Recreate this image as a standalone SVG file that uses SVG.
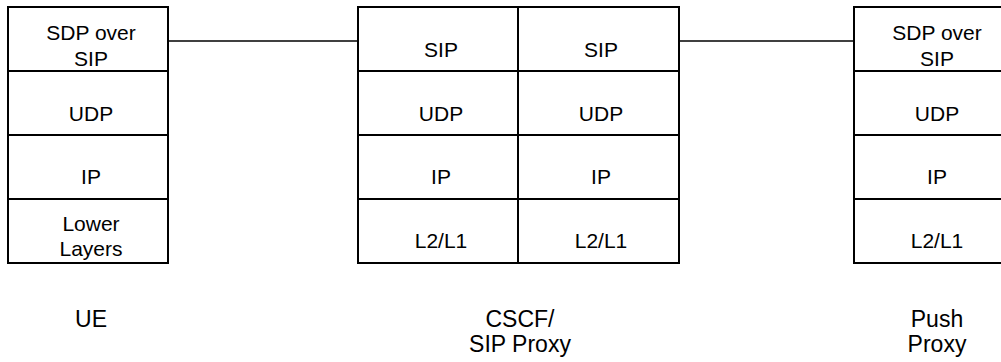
<svg xmlns="http://www.w3.org/2000/svg" width="1001" height="362" viewBox="0 0 1001 362">
<style>
.b{fill:#fff;stroke:#000;stroke-width:2}
.d{fill:none;stroke:#000;stroke-width:2}
.l{fill:none;stroke:#000;stroke-width:1.5}
text{font-family:"Liberation Sans",Arial,sans-serif;font-size:21px;fill:#000;text-anchor:middle}
text.n{font-size:23px}
</style>
<rect width="1001" height="362" fill="#fff"/>
<g id="connectors">
<line class="l" x1="168" y1="41" x2="358" y2="41"/>
<line class="l" x1="679" y1="41" x2="854" y2="41"/>
</g>
<g id="ue">
<rect class="b" x="8" y="7" width="160" height="256"/>
<line class="d" x1="8" y1="71" x2="168" y2="71"/>
<line class="d" x1="8" y1="135" x2="168" y2="135"/>
<line class="d" x1="8" y1="199" x2="168" y2="199"/>
<text x="91" y="39.5">SDP over</text>
<text x="91" y="65.5">SIP</text>
<text x="91" y="121">UDP</text>
<text x="91" y="184">IP</text>
<text x="91" y="231">Lower</text>
<text x="91" y="256">Layers</text>
<text class="n" x="91" y="327">UE</text>
</g>
<g id="cscf">
<rect class="b" x="358" y="7" width="321" height="256"/>
<line class="d" x1="518" y1="7" x2="518" y2="263"/>
<line class="d" x1="358" y1="71" x2="679" y2="71"/>
<line class="d" x1="358" y1="135" x2="679" y2="135"/>
<line class="d" x1="358" y1="199" x2="679" y2="199"/>
<text x="441" y="57">SIP</text>
<text x="441" y="121">UDP</text>
<text x="441" y="184">IP</text>
<text x="441" y="247.5">L2/L1</text>
<text x="601" y="57">SIP</text>
<text x="601" y="121">UDP</text>
<text x="601" y="184">IP</text>
<text x="601" y="247.5">L2/L1</text>
<text class="n" x="520" y="327">CSCF/</text>
<text class="n" x="520" y="352">SIP Proxy</text>
</g>
<g id="push">
<rect class="b" x="854" y="7" width="160" height="256"/>
<line class="d" x1="854" y1="71" x2="1014" y2="71"/>
<line class="d" x1="854" y1="135" x2="1014" y2="135"/>
<line class="d" x1="854" y1="199" x2="1014" y2="199"/>
<text x="937" y="39.5">SDP over</text>
<text x="937" y="65.5">SIP</text>
<text x="937" y="121">UDP</text>
<text x="937" y="184">IP</text>
<text x="937" y="247.5">L2/L1</text>
<text class="n" x="937" y="327">Push</text>
<text class="n" x="937" y="352">Proxy</text>
</g>
</svg>
